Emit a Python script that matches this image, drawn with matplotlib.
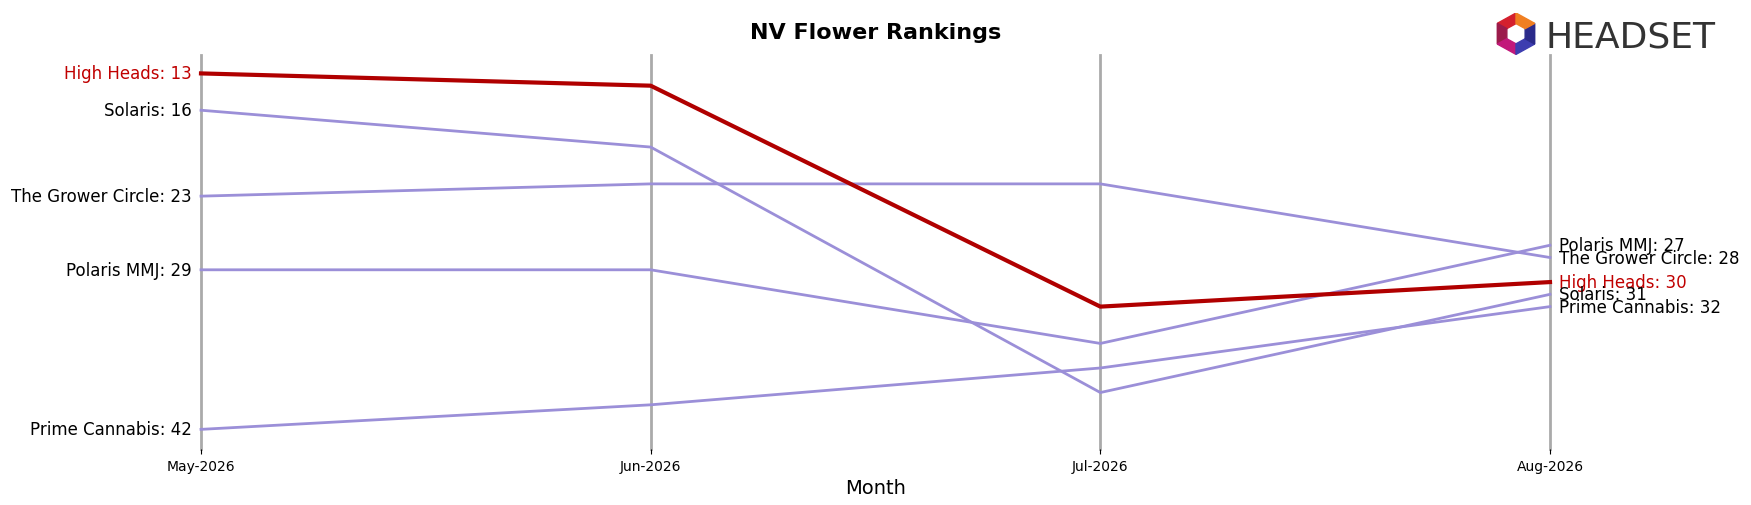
import matplotlib
matplotlib.use("Agg")
import matplotlib.pyplot as plt
from matplotlib.patches import Polygon
import numpy as np

months = ["May-2026", "Jun-2026", "Jul-2026", "Aug-2026"]
brands = ["High Heads", "Solaris", "The Grower Circle", "Polaris MMJ", "Prime Cannabis"]
high_heads = [13, 14, 32, 30]
solaris = [16, 19, 39, 31]
grower = [23, 22, 22, 28]
polaris = [29, 29, 35, 27]
prime = [42, 40, 37, 32]
series = [high_heads, solaris, grower, polaris, prime]

W, H = 1751, 506
fig = plt.figure(figsize=(W/100, H/100), dpi=100)
ax = fig.add_axes([201/W, 1-450/H, (1550-201)/W, (450-56)/H])
x = list(range(len(months)))
for xi in x:
    ax.axvline(xi, color="#aaaaaa", lw=2, zorder=0, clip_on=False)
for name, vals in zip(brands, series):
    if name == "High Heads":
        ax.plot(x, vals, color="#b00000", lw=3, zorder=3, clip_on=False)
        c = "#c00000"
    else:
        ax.plot(x, vals, color="#9b8fd8", lw=2, zorder=2, clip_on=False)
        c = "black"
    ax.text(-0.02, vals[0], f"{name}: {vals[0]}", ha="right", va="center", fontsize=12, color=c)
    ax.text(x[-1] + 0.02, vals[-1], f"{name}: {vals[-1]}", ha="left", va="center", fontsize=12, color=c)
ax.set_xlim(0, 3)
ax.set_ylim(43.6, 11.5)
ax.set_yticks([])
ax.set_xticks(x)
ax.set_xticklabels(months, fontsize=10)
for s in ax.spines.values():
    s.set_visible(False)
ax.set_xlabel("Month", fontsize=14)
ax.set_title("NV Flower Rankings", fontsize=16, fontweight="bold", pad=12)

# logo
fig.text(1545/W, 1-38/H, "HEADSET", fontsize=26, color="#333333", va="center", ha="left")
lax = fig.add_axes([1492/W, 1-60/H, 48/W, 46/H])
lax.axis("off")
lax.set_xlim(0, 1); lax.set_ylim(0, 1)
cols = ["#d4202e", "#9b1b4b", "#c2187a", "#3d3db0", "#2a2a8a", "#f07f22"]
ang = np.deg2rad(np.arange(90, 450, 60))
for i, c in enumerate(cols):
    a0, a1 = ang[i], ang[i] + np.deg2rad(60)
    pts = [(0.5+0.45*np.cos(a0), 0.55+0.45*np.sin(a0)), (0.5+0.45*np.cos(a1), 0.55+0.45*np.sin(a1)),
           (0.5+0.22*np.cos(a1), 0.55+0.22*np.sin(a1)), (0.5+0.22*np.cos(a0), 0.55+0.22*np.sin(a0))]
    lax.add_patch(Polygon(pts, color=c))
fig.savefig("out.png", dpi=100)
